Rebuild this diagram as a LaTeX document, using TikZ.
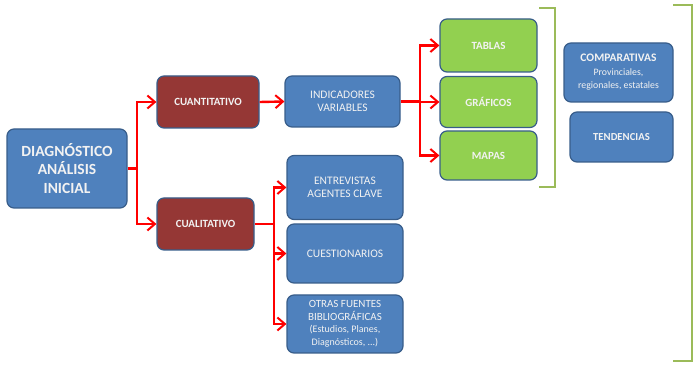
\documentclass[tikz,border=0pt]{standalone}
\usepackage{fontspec}
\setmainfont{Carlito}
\usetikzlibrary{arrows.meta}
\definecolor{bfill}{HTML}{4F81BD}
\definecolor{bline}{HTML}{385D8A}
\definecolor{rfill}{HTML}{953735}
\definecolor{gfill}{HTML}{92D050}
\definecolor{brk}{HTML}{9BBB59}
\definecolor{txt}{HTML}{F2F2F2}
\begin{document}
\begin{tikzpicture}[x=1pt,y=-1pt,
  box/.style={draw=bline,line width=1.2pt,rounded corners=7pt,text=txt,align=center,inner sep=0pt,font=\fontsize{11.5}{13.5}\selectfont},
  bluebox/.style={box,fill=bfill},
  redbox/.style={box,fill=rfill,draw=bline,font=\bfseries\fontsize{11}{13}\selectfont},
  greenbox/.style={box,fill=gfill,font=\bfseries\fontsize{11}{13}\selectfont},
  conn/.style={draw=red,line width=2.4pt},
  arr/.style={conn,-{Straight Barb[length=7.5pt,width=13pt,line width=2pt]}},
  bracket/.style={draw=brk,line width=2.6pt}]
\useasboundingbox (0,0) rectangle (697,366);
% nodes
\node[bluebox,minimum width=120,minimum height=79,font=\bfseries\fontsize{15.5}{18.3}\selectfont] (diag) at (67,168.5) {DIAGNÓSTICO\\ANÁLISIS\\INICIAL};
\node[redbox,minimum width=102,minimum height=52] (cuant) at (208,102) {CUANTITATIVO};
\node[redbox,minimum width=97,minimum height=52] (cual) at (205.5,224) {CUALITATIVO};
\node[bluebox,minimum width=115,minimum height=51] (ind) at (342.5,101.5) {INDICADORES\\VARIABLES};
\node[greenbox,minimum width=97,minimum height=53] (tab) at (488.5,45.5) {TABLAS};
\node[greenbox,minimum width=97,minimum height=51] (gra) at (488.5,102) {GRÁFICOS};
\node[greenbox,minimum width=97,minimum height=49] (map) at (488.5,155.5) {MAPAS};
\node[bluebox,minimum width=116,minimum height=64] (ent) at (345,187.5) {ENTREVISTAS\\AGENTES CLAVE};
\node[bluebox,minimum width=116,minimum height=59] (cue) at (345,253.5) {CUESTIONARIOS};
\node[bluebox,minimum width=116,minimum height=58,font=\fontsize{11}{12.5}\selectfont] (otr) at (345,324) {OTRAS FUENTES\\BIBLIOGRÁFICAS\\{\fontsize{10}{12.5}\selectfont(Estudios, Planes,}\\{\fontsize{10}{12.5}\selectfont Diagnósticos, ...)}};
\node[bluebox,minimum width=109,minimum height=59] (com) at (618.5,72.5) {{\bfseries\fontsize{11.5}{13}\selectfont COMPARATIVAS}\\{\fontsize{9.8}{12}\selectfont Provinciales,}\\{\fontsize{9.8}{12}\selectfont regionales, estatales}};
\node[bluebox,minimum width=103,minimum height=50,font=\bfseries\fontsize{10.7}{12}\selectfont] (ten) at (621.5,137) {TENDENCIAS};
% connectors
\coordinate (j1) at (137,168.5);
\draw[conn] (diag.east) -- (j1);
\draw[arr] (j1) |- (cuant.west);
\draw[arr] (j1) |- (cual.west);
\draw[arr] (cuant.east) -- (ind.west);
\coordinate (j2) at (420,101.5);
\draw[conn] (ind.east) -- (j2);
\draw[arr] (j2) |- (tab.west);
\draw[arr] (j2) |- (gra.west);
\draw[arr] (j2) |- (map.west);
\coordinate (j3) at (274,224);
\draw[conn] (cual.east) -- (j3);
\draw[arr] (j3) |- (ent.west);
\draw[arr] (j3) |- (cue.west);
\draw[arr] (j3) |- (otr.west);
% brackets
\draw[bracket] (539,8) -- (555,8) -- (555,187) -- (539,187);
\draw[bracket] (673,5) -- (692,5) -- (692,361) -- (673,361);
\end{tikzpicture}
\end{document}
